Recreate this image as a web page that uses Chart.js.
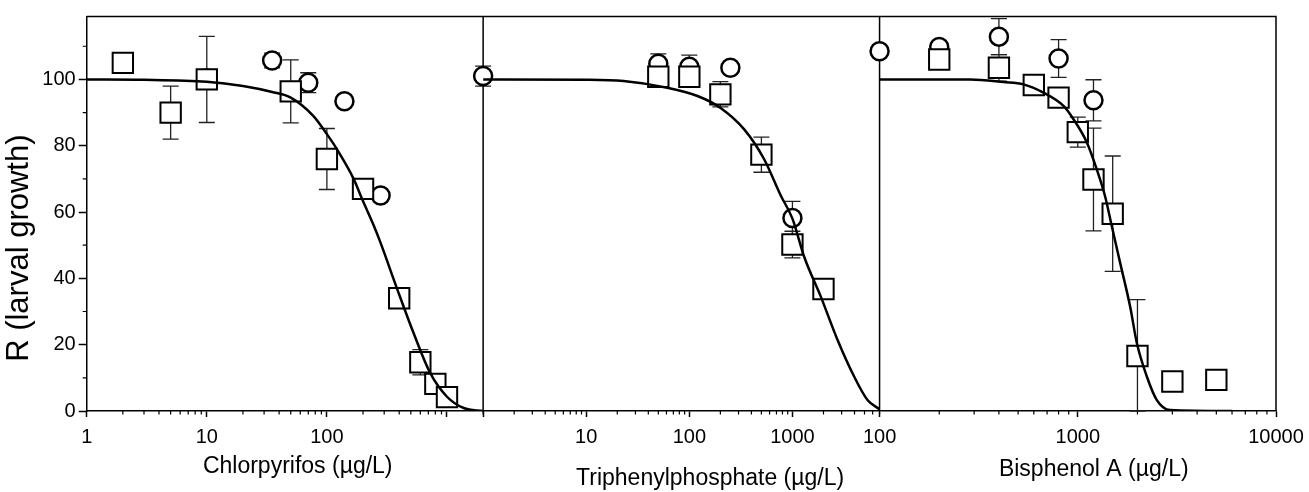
<!DOCTYPE html>
<html>
<head>
<meta charset="utf-8">
<script src="https://cdn.jsdelivr.net/npm/chart.js@4.4.0/dist/chart.umd.min.js"></script>
<style>
  html, body { margin: 0; padding: 0; background: #fff; }
  #wrap { width: 1309px; height: 492px; position: relative; }
</style>
</head>
<body>
<div id="wrap"><canvas id="grafico"></canvas></div>
<script>
// Chlorpyrifos (painel 1)
var cpfSqX = [2, 5, 10, 50, 100, 200, 400, 600, 800, 1000];
var cpfSqY = [105, 90, 100, 96.4, 76, 67, 34, 14.7, 8.2, 4.2];
var cpfSqErr = [0, 8, 13, 9.5, 9.2, 0, 0, 3.8, 0, 0];
var cpfCiX = [10, 35, 70, 140, 280];
var cpfCiY = [100.3, 105.7, 99, 93.4, 65];
var cpfCiErr = [0, 2.2, 3, 0, 0];
var cpfFitX = [1, 3, 10, 20, 35, 50, 77, 100, 121, 167, 196, 245, 278, 383, 527, 726, 1000, 1377, 2000];
var cpfFitY = [100, 99.9, 99.3, 98, 96.2, 94.5, 89, 83.5, 79, 70, 64, 56, 51, 37, 23.5, 11.4, 4.3, 0.9, 0];

// Triphenylphosphate (painel 2)
var tppSqX = [50, 100, 200, 500, 1000, 2000];
var tppSqY = [100.8, 100.8, 95.5, 77.3, 50.2, 36.8];
var tppSqErr = [0, 0, 3.8, 5.3, 4, 0];
var tppCiX = [1, 50, 100, 250, 1000];
var tppCiY = [101, 104.7, 103.8, 103.5, 58.2];
var tppCiErr = [3, 3, 3.5, 0, 5];
var tppFitX = [1, 10, 23, 61, 120, 201, 339, 530, 770, 1000, 1297, 1884, 2734, 3966, 5347, 7000];
var tppFitY = [100, 99.9, 99.5, 97.5, 95, 91.4, 85, 76, 65, 58, 46.6, 34.5, 21.5, 10.4, 3.3, 0.5];

// Bisphenol A (painel 3)
var bpaSqX = [200, 400, 600, 800, 1000, 1200, 1500, 2000, 3000, 5000];
var bpaSqY = [106, 103.5, 98.3, 94.5, 84.1, 69.8, 59.5, 16.6, 8.9, 9.4];
var bpaSqErr = [0, 4, 0, 0, 4.5, 15.5, 17.4, 17, 0, 0];
var bpaCiX = [100, 200, 400, 800, 1200];
var bpaCiY = [108.5, 109.8, 112.9, 106.3, 93.7];
var bpaCiErr = [0, 0, 5.4, 5.7, 6.2];
var bpaFitX = [100, 286, 422, 532, 671, 847, 951, 1111, 1248, 1374, 1485, 1637, 1837, 1986, 2230, 2505, 2924, 6000];
var bpaFitY = [100, 100, 99.2, 98.5, 96, 92, 88, 81, 72.8, 64.7, 55.7, 44.6, 31.5, 20.5, 10.4, 3.3, 0.3, 0];

// Eixos
var cpfLabels = [1, 10, 100];
var tppLabels = [10, 100, 1000];
var bpaLabels = [100, 1000, 10000];
var yLabels = [0, 20, 40, 60, 80, 100];

var fonte = '"Liberation Sans", Arial, sans-serif';

function pontos(xs, ys) {
   return xs.map(function (x, i) { return { x: x, y: ys[i] }; });
}

function isDecade(v) {
   var l = Math.log10(v);
   return Math.abs(l - Math.round(l)) < 1e-9;
}

// marcas 1..9 de cada década
function decadeTicks(lo, hi) {
   var out = [];
   for (var d = lo; d < hi; d *= 10) {
      for (var k = 1; k < 10; k++) {
         if (k * d > hi) break;
         out.push(k * d);
      }
   }
   if (out[out.length - 1] !== hi) out.push(hi);
   return out;
}

function eixoX(min, max, labels, titulo, padBottom) {
   return {
      type: "logarithmic",
      position: "bottom",
      stack: "conc",
      min: min,
      max: max,
      afterBuildTicks: function (s) {
         s.ticks = decadeTicks(min, max).map(function (v) {
            return { value: v, major: isDecade(v) };
         });
      },
      afterFit: function (s) {
         s.height = 81;
         s.paddingLeft = 0;
         s.paddingRight = 0;
      },
      grid: {
         drawOnChartArea: false,
         tickLength: 6,
         tickWidth: 1.5,
         tickColor: function (c) {
            return c.tick && c.tick.major ? "#000" : "rgba(0,0,0,0)";
         },
      },
      border: { color: "#000", width: 1.5 },
      ticks: {
         autoSkip: false,
         maxRotation: 0,
         padding: 8,
         color: "#000",
         font: { family: fonte, size: 20 },
         callback: function (v) {
            return labels.indexOf(v) >= 0 ? String(v) : "";
         },
      },
      title: {
         display: true,
         text: titulo,
         color: "#000",
         font: { family: fonte, size: 23 },
         padding: { top: 0, bottom: padBottom },
      },
   };
}

function quadrados(xs, ys, errs, eixo) {
   return {
      label: "sq",
      data: pontos(xs, ys),
      errors: errs,
      xAxisID: eixo,
      yAxisID: "y",
      pointStyle: "rect",
      pointRadius: 14.4,
      pointBorderWidth: 2,
      pointBorderColor: "#000",
      pointBackgroundColor: "#fff",
      showLine: false,
      clip: false,
      order: 1,
   };
}

function circulos(xs, ys, errs, eixo) {
   return {
      label: "ci",
      data: pontos(xs, ys),
      errors: errs,
      xAxisID: eixo,
      yAxisID: "y",
      pointStyle: "circle",
      pointRadius: 9,
      pointBorderWidth: 2.5,
      pointBorderColor: "#000",
      pointBackgroundColor: "#fff",
      showLine: false,
      clip: false,
      order: 1,
   };
}

function curva(xs, ys, eixo) {
   return {
      label: "fit",
      data: pontos(xs, ys),
      xAxisID: eixo,
      yAxisID: "y",
      showLine: true,
      borderColor: "#000",
      borderWidth: 2.5,
      pointRadius: 0,
      cubicInterpolationMode: "monotone",
      order: 0,
   };
}

// barras de erro (desenhadas por baixo dos marcadores)
var barrasErro = {
   id: "barrasErro",
   beforeDatasetsDraw: function (chart) {
      var ctx = chart.ctx;
      ctx.save();
      ctx.strokeStyle = "#222";
      ctx.lineWidth = 1.3;
      chart.data.datasets.forEach(function (ds) {
         if (!ds.errors) return;
         var xs = chart.scales[ds.xAxisID], ys = chart.scales.y;
         ds.data.forEach(function (p, i) {
            var e = ds.errors[i];
            if (!e) return;
            var px = xs.getPixelForValue(p.x);
            var top = ys.getPixelForValue(p.y + e);
            var bot = ys.getPixelForValue(Math.max(0, p.y - e));
            ctx.beginPath();
            ctx.moveTo(px, top); ctx.lineTo(px, bot);
            ctx.moveTo(px - 8, top); ctx.lineTo(px + 8, top);
            ctx.moveTo(px - 8, bot); ctx.lineTo(px + 8, bot);
            ctx.stroke();
         });
      });
      // moldura e divisões entre painéis
      var a = chart.chartArea;
      ctx.strokeStyle = "#000";
      ctx.lineWidth = 1.5;
      ctx.beginPath();
      ctx.moveTo(a.left, a.top); ctx.lineTo(a.right, a.top); ctx.lineTo(a.right, a.bottom);
      ctx.moveTo(chart.scales.x1.right, a.top); ctx.lineTo(chart.scales.x1.right, a.bottom);
      ctx.moveTo(chart.scales.x2.right, a.top); ctx.lineTo(chart.scales.x2.right, a.bottom);
      ctx.stroke();
      ctx.restore();
   },
   afterDraw: function (chart) {
      // marcas menores mais curtas
      var ctx = chart.ctx;
      ctx.save();
      ctx.strokeStyle = "#000";
      ctx.lineWidth = 1.2;
      ctx.beginPath();
      ["x1", "x2", "x3"].forEach(function (id) {
         var s = chart.scales[id];
         s.ticks.forEach(function (t) {
            if (t.major) return;
            var px = s.getPixelForValue(t.value);
            ctx.moveTo(px, s.top); ctx.lineTo(px, s.top + 3.5);
         });
      });
      var y = chart.scales.y;
      y.ticks.forEach(function (t) {
         if (t.value % 20 === 0) return;
         var py = y.getPixelForValue(t.value);
         ctx.moveTo(y.right, py); ctx.lineTo(y.right - 4, py);
      });
      ctx.stroke();
      ctx.restore();
   },
};

new Chart(document.getElementById("grafico").getContext("2d"), {
   type: "scatter",
   data: {
      datasets: [
         curva(cpfFitX, cpfFitY, "x1"),
         quadrados(cpfSqX, cpfSqY, cpfSqErr, "x1"),
         circulos(cpfCiX, cpfCiY, cpfCiErr, "x1"),
         curva(tppFitX, tppFitY, "x2"),
         quadrados(tppSqX, tppSqY, tppSqErr, "x2"),
         circulos(tppCiX, tppCiY, tppCiErr, "x2"),
         curva(bpaFitX, bpaFitY, "x3"),
         quadrados(bpaSqX, bpaSqY, bpaSqErr, "x3"),
         circulos(bpaCiX, bpaCiY, bpaCiErr, "x3"),
      ],
   },
   options: {
      responsive: true,
      maintainAspectRatio: false,
      animation: false,
      layout: { padding: { top: 16, right: 33, bottom: 0, left: 0 } },
      plugins: { legend: { display: false }, tooltip: { enabled: false } },
      scales: {
         x1: eixoX(1, 2000, cpfLabels, "    Chlorpyrifos (µg/L)", 12),
         x2: eixoX(1, 7000, tppLabels, "         Triphenylphosphate (µg/L)", 0),
         x3: eixoX(100, 10000, bpaLabels, "     Bisphenol A (µg/L)", 9),
         y: {
            position: "left",
            min: 0,
            max: 119,
            afterFit: function (s) { s.width = 86.7; },
            grid: {
               drawOnChartArea: false,
               tickLength: 8,
               tickWidth: 1.5,
               tickColor: function (c) {
                  return c.tick && c.tick.value % 20 === 0 ? "#000" : "rgba(0,0,0,0)";
               },
            },
            border: { color: "#000", width: 1.5 },
            ticks: {
               stepSize: 10,
               includeBounds: false,
               padding: 3,
               color: "#000",
               font: { family: fonte, size: 20 },
               callback: function (v) {
                  return yLabels.indexOf(v) >= 0 ? String(v) : "";
               },
            },
            title: {
               display: true,
               text: "R (larval growth)        ",
               color: "#000",
               font: { family: fonte, size: 31 },
               padding: { top: 1, bottom: 0 },
            },
         },
      },
   },
   plugins: [barrasErro],
});
</script>
</body>
</html>
